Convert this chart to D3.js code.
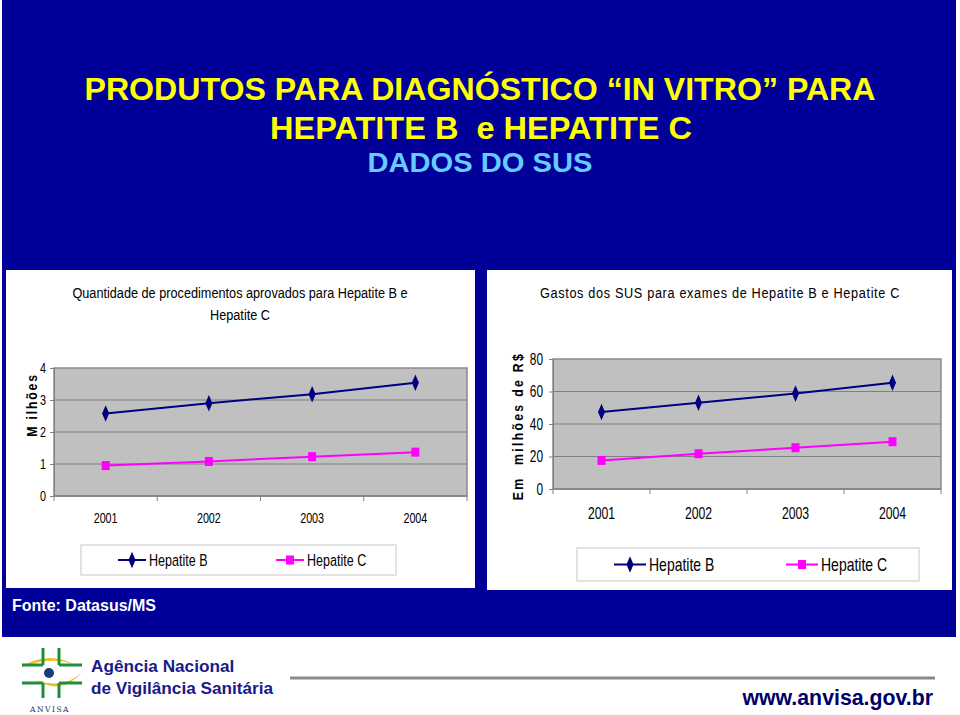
<!DOCTYPE html>
<html><head><meta charset="utf-8">
<script src="https://cdn.jsdelivr.net/npm/d3@7"></script>
<style>body{margin:0;background:#fff}svg{display:block}</style>
</head><body>
<script>
const years = ["2001","2002","2003","2004"];
const procB = [2.58, 2.90, 3.18, 3.54];
const procC = [0.95, 1.08, 1.23, 1.37];
const procTicks = [0,1,2,3,4];
const gastB = [47.4, 53.1, 58.7, 65.4];
const gastC = [17.6, 21.7, 25.4, 29.1];
const gastTicks = [0,20,40,60,80];
const seriesNames = ["Hepatite B","Hepatite C"];

const W=960,H=715;
const svg=d3.select("body").append("svg").attr("width",W).attr("height",H);
const SANS='"Liberation Sans",Arial,sans-serif';

function ntext(g,x,y,txt,o){
  return g.append("text").attr("transform",`translate(${x},${y}) scale(${o.sx||1},1)`)
    .attr("text-anchor",o.anchor||"start").attr("font-family",SANS)
    .attr("font-weight",o.weight||"normal").attr("font-size",o.size)
    .attr("letter-spacing",o.ls||0).attr("fill",o.fill||"#000").text(txt);
}

svg.append("rect").attr("x",0).attr("y",0).attr("width",W).attr("height",H).attr("fill","#fff");
svg.append("rect").attr("x",2).attr("y",0).attr("width",954).attr("height",637).attr("fill","#000099");

// Main titles
svg.append("text").attr("x",480).attr("y",100).attr("text-anchor","middle")
  .attr("font-family",SANS).attr("font-weight","bold").attr("font-size",32).attr("fill","#ffff00")
  .attr("textLength",791).attr("lengthAdjust","spacingAndGlyphs")
  .text("PRODUTOS PARA DIAGNÓSTICO “IN VITRO” PARA");
svg.append("text").attr("x",481).attr("y",138.5).attr("text-anchor","middle")
  .attr("font-family",SANS).attr("font-weight","bold").attr("font-size",32).attr("fill","#ffff00")
  .attr("textLength",422).attr("lengthAdjust","spacingAndGlyphs")
  .attr("xml:space","preserve")
  .text("HEPATITE B  e HEPATITE C");
svg.append("text").attr("x",480).attr("y",172).attr("text-anchor","middle")
  .attr("font-family",SANS).attr("font-weight","bold").attr("font-size",27).attr("fill","#66ccff")
  .attr("textLength",225).attr("lengthAdjust","spacingAndGlyphs")
  .text("DADOS DO SUS");

function chart(cfg){
  const g=svg.append("g");
  g.append("rect").attr("x",cfg.panel[0]).attr("y",cfg.panel[1]).attr("width",cfg.panel[2]).attr("height",cfg.panel[3]).attr("fill","#fff");
  cfg.title.forEach((t,i)=>{
    ntext(g,cfg.titleX,cfg.titleY+i*22,t,{size:cfg.titleSize,sx:0.82,anchor:"middle",ls:cfg.titleLS||0});
  });
  const x=d3.scaleBand().domain(years).range([cfg.px0,cfg.px1]);
  const y=d3.scaleLinear().domain([cfg.ticks[0],cfg.ticks[cfg.ticks.length-1]]).range([cfg.py1,cfg.py0]);
  g.append("rect").attr("x",cfg.px0).attr("y",cfg.py0).attr("width",cfg.px1-cfg.px0).attr("height",cfg.py1-cfg.py0)
   .attr("fill","#c0c0c0").attr("stroke","#8a8a8a").attr("stroke-width",1.5);
  g.selectAll(".grid").data(cfg.ticks.slice(1,-1)).enter().append("line")
   .attr("x1",cfg.px0).attr("x2",cfg.px1).attr("y1",d=>y(d)).attr("y2",d=>y(d))
   .attr("stroke","#808080").attr("stroke-width",1);
  // y axis
  const ya=g.append("g").attr("transform",`translate(${cfg.px0},0)`)
    .call(d3.axisLeft(y).tickValues(cfg.ticks).tickFormat(d3.format("d")).tickSize(4).tickPadding(cfg.yPad));
  ya.select(".domain").attr("stroke","#808080");
  ya.selectAll(".tick line").attr("stroke","#808080");
  ya.selectAll(".tick text").attr("font-family",SANS).attr("font-size",cfg.ySize).attr("fill","#000")
    .attr("transform",function(){const xx=+this.getAttribute("x");this.setAttribute("x",0);return `translate(${xx},0) scale(${cfg.ySx},1)`;});
  // x axis
  const boundaries=years.map(d=>x(d)).concat([cfg.px1]);
  g.append("line").attr("x1",cfg.px0).attr("x2",cfg.px1).attr("y1",cfg.py1).attr("y2",cfg.py1).attr("stroke","#808080").attr("stroke-width",1.5);
  g.selectAll(".xt").data(boundaries).enter().append("line")
   .attr("x1",d=>d).attr("x2",d=>d).attr("y1",cfg.py1).attr("y2",cfg.py1+5).attr("stroke","#808080");
  years.forEach(d=>ntext(g,x(d)+x.bandwidth()/2,cfg.xLabY,d,{size:cfg.xSize,sx:cfg.xSx,anchor:"middle"}));
  // y title
  g.append("text").attr("transform",`translate(${cfg.ytX},${cfg.ytY}) rotate(-90) scale(0.82,1)`).attr("text-anchor","middle")
   .attr("font-family",SANS).attr("font-weight","bold").attr("font-size",cfg.ytSize).attr("letter-spacing",cfg.ytLS)
   .attr("fill","#000").attr("xml:space","preserve").text(cfg.ytText);
  const line=d3.line().x((d,i)=>x(years[i])+x.bandwidth()/2).y(d=>y(d));
  g.append("path").attr("d",line(cfg.B)).attr("fill","none").attr("stroke","#000080").attr("stroke-width",2);
  g.append("path").attr("d",line(cfg.C)).attr("fill","none").attr("stroke","#ff00ff").attr("stroke-width",2);
  const dia=d3.symbol().type(d3.symbolDiamond).size(60);
  g.selectAll(".mb").data(cfg.B).enter().append("path").attr("d",dia)
   .attr("transform",(d,i)=>`translate(${x(years[i])+x.bandwidth()/2},${y(d)}) scale(0.85,1.15)`).attr("fill","#000080");
  g.selectAll(".mc").data(cfg.C).enter().append("rect")
   .attr("x",(d,i)=>x(years[i])+x.bandwidth()/2-4).attr("y",d=>y(d)-4.5).attr("width",8).attr("height",9).attr("fill","#ff00ff");
  // legend
  const L=cfg.leg;
  g.append("rect").attr("x",L.x).attr("y",L.y).attr("width",L.w).attr("height",L.h).attr("fill","#fff").attr("stroke","#c8c8c8");
  const cy=L.y+L.h/2;
  const cols=["#000080","#ff00ff"];
  L.items.forEach((it,i)=>{
    g.append("line").attr("x1",it[0]).attr("x2",it[1]).attr("y1",cy).attr("y2",cy).attr("stroke",cols[i]).attr("stroke-width",2);
    const mx=(it[0]+it[1])/2;
    if(i===0) g.append("path").attr("d",dia).attr("transform",`translate(${mx},${cy}) scale(0.85,1.15)`).attr("fill",cols[0]);
    else g.append("rect").attr("x",mx-4).attr("y",cy-4.5).attr("width",8).attr("height",9).attr("fill",cols[1]);
    ntext(g,it[1]+3,cy+L.size*0.36,seriesNames[i],{size:L.size,sx:L.sx});
  });
}

chart({panel:[6,270,469,318], title:["Quantidade de procedimentos aprovados para Hepatite B e","Hepatite C"],
  titleX:240,titleY:298,titleSize:15.5,
  px0:54,px1:467,py0:368,py1:496,ticks:procTicks,B:procB,C:procC,yPad:4,ySize:15,ySx:0.72,
  xLabY:523,xSize:15,xSx:0.72,ytX:37,ytY:405,ytSize:15,ytLS:2.2,ytText:"M ilhões",
  leg:{x:81,y:545,w:315,h:30,size:16.5,sx:0.76,items:[[118,146],[276,304]]}});

chart({panel:[487,270,465,320], title:["Gastos dos SUS para exames de Hepatite B e Hepatite C"],
  titleX:720,titleY:298,titleSize:15.5,titleLS:0.8,
  px0:553,px1:941,py0:359,py1:489,ticks:gastTicks,B:gastB,C:gastC,yPad:6,ySize:17,ySx:0.7,
  xLabY:519,xSize:17,xSx:0.72,ytX:523,ytY:426,ytSize:15,ytLS:2.8,ytText:"Em  milhões de R$",
  leg:{x:577,y:548,w:342,h:33,size:17.5,sx:0.8,items:[[614,646],[786,818]]}});

// Source
svg.append("text").attr("x",12).attr("y",611).attr("font-family",SANS).attr("font-weight","bold")
  .attr("font-size",16).attr("fill","#fff").text("Fonte: Datasus/MS");

// Logo
const lg=svg.append("g");
const green="#1f8f3a";
lg.append("path").attr("d","M20,668 Q45,650 74,664 Q48,656 20,668Z").attr("fill","#e8c020");
lg.append("path").attr("d","M36,680 Q62,696 82,672 Q64,690 36,680Z").attr("fill","#e8c020");
[[43,648,43,665],[59,648,59,665],[22,665,43,665],[59,665,82,665],
 [43,683,43,698],[59,683,59,698],[22,683,43,683],[59,683,82,683]].forEach(s=>{
  lg.append("line").attr("x1",s[0]).attr("y1",s[1]).attr("x2",s[2]).attr("y2",s[3]).attr("stroke",green).attr("stroke-width",3);
});
lg.append("circle").attr("cx",49).attr("cy",673).attr("r",5).attr("fill","#1a3a7a");
lg.append("text").attr("x",50).attr("y",712).attr("text-anchor","middle").attr("font-family","DejaVu Serif,serif")
  .attr("font-size",7.5).attr("letter-spacing",1.5).attr("fill","#1a2a6a").text("ANVISA");
svg.append("text").attr("x",91).attr("y",672).attr("font-family",SANS).attr("font-weight","bold")
  .attr("font-size",17.2).attr("fill","#1a1a8a").text("Agência Nacional");
svg.append("text").attr("x",91).attr("y",694).attr("font-family",SANS).attr("font-weight","bold")
  .attr("font-size",17.2).attr("fill","#1a1a8a").text("de Vigilância Sanitária");
svg.append("line").attr("x1",290).attr("x2",935).attr("y1",678).attr("y2",678).attr("stroke","#8a8a8a").attr("stroke-width",3);
svg.append("text").attr("x",933).attr("y",705).attr("text-anchor","end").attr("font-family",SANS).attr("font-weight","bold")
  .attr("font-size",21.3).attr("fill","#000066").text("www.anvisa.gov.br");
</script>
</body></html>
